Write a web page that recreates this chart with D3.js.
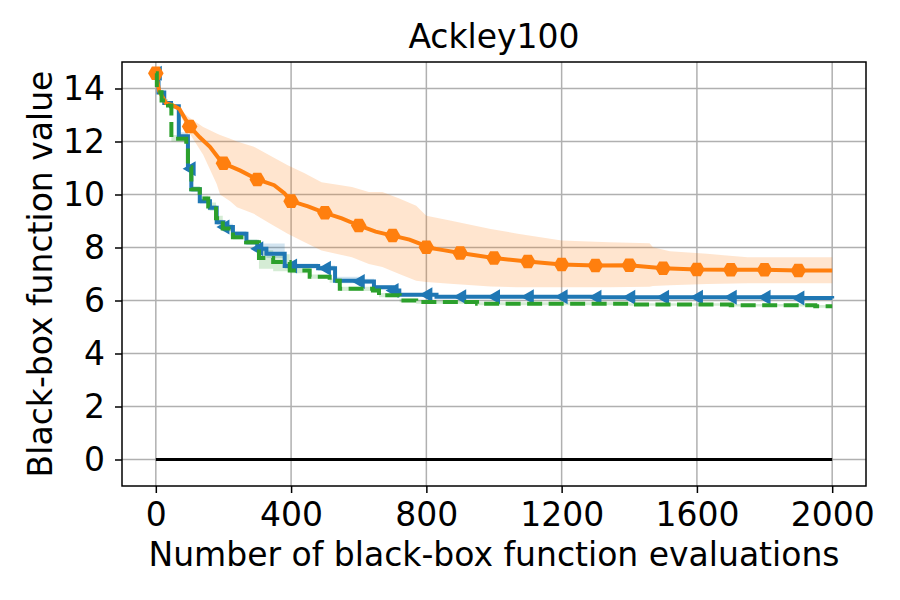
<!DOCTYPE html>
<html>
<head>
<meta charset="utf-8">
<script src="https://cdn.jsdelivr.net/npm/d3@7"></script>
<style>
  body { margin: 0; background: #fff; }
  text { font-family: "DejaVu Sans", sans-serif; fill: #000; }
</style>
</head>
<body>
<div id="chart-container"></div>
<script>
// tick values
const xTicks = [0, 400, 800, 1200, 1600, 2000];
const yTicks = [0, 2, 4, 6, 8, 10, 12, 14];

// orange series (mean line + band)
const orangeX = [0, 10, 30, 50, 70, 85, 100, 130, 160, 190, 200, 250, 300, 350, 380, 400, 450, 500, 550, 600, 650, 700, 750, 790, 800, 850, 900, 950, 1000, 1100, 1200, 1300, 1400, 1500, 1600, 1700, 1800, 1900, 2000];
const orangeY = [14.58, 13.9, 13.45, 13.36, 13.23, 12.9, 12.57, 12.16, 11.8, 11.3, 11.18, 10.9, 10.57, 10.35, 10.05, 9.75, 9.55, 9.31, 9.1, 8.83, 8.6, 8.45, 8.3, 8.1, 8.01, 7.9, 7.79, 7.7, 7.6, 7.47, 7.36, 7.32, 7.33, 7.22, 7.17, 7.16, 7.16, 7.13, 7.13];
const orangeBandX = [0, 60, 100, 140, 180, 190, 220, 240, 290, 340, 390, 440, 490, 580, 630, 670, 720, 770, 800, 870, 990, 1070, 1200, 1340, 1460, 1470, 1520, 1630, 1750, 2000];
const orangeHi = [14.58, 13.3, 12.9, 12.55, 12.3, 12.25, 12.1, 12.0, 11.8, 11.45, 11.1, 10.8, 10.46, 10.28, 10.09, 10.09, 9.85, 9.58, 9.2, 9.02, 8.7, 8.52, 8.26, 8.2, 8.16, 8.01, 7.86, 7.76, 7.63, 7.63];
const orangeLo = [14.58, 13.3, 12.3, 11.5, 10.4, 10.0, 9.75, 9.52, 9.27, 8.89, 8.52, 8.2, 7.89, 7.63, 7.38, 7.26, 7.0, 6.75, 6.7, 6.63, 6.53, 6.5, 6.5, 6.5, 6.52, 6.55, 6.58, 6.62, 6.65, 6.65];

// blue series (step)
const blueX = [0, 8, 25, 45, 68, 95, 105, 130, 160, 180, 200, 228, 268, 300, 327, 381, 480, 530, 600, 645, 700, 720, 830, 1300, 1900, 2000];
const blueY = [14.58, 13.85, 13.45, 13.33, 12.2, 10.97, 10.2, 9.75, 9.5, 8.95, 8.77, 8.52, 8.2, 7.95, 7.76, 7.3, 7.22, 6.75, 6.72, 6.5, 6.38, 6.22, 6.14, 6.12, 6.09, 6.08];
const blueLo = [14.58, 13.8, 13.4, 13.28, 12.1, 10.85, 10.1, 9.65, 9.4, 8.85, 8.65, 8.42, 8.1, 7.85, 7.6, 7.2, 7.12, 6.65, 6.62, 6.42, 6.3, 6.16, 6.09, 6.07, 6.04, 6.03];
const blueHi = [14.58, 13.9, 13.5, 13.38, 12.35, 11.1, 10.3, 9.85, 9.6, 9.05, 8.9, 8.62, 8.3, 8.15, 8.15, 7.4, 7.32, 6.9, 6.82, 6.58, 6.45, 6.28, 6.19, 6.17, 6.14, 6.13];

// green series (step, dashed)
const greenX = [0, 3, 17, 36, 46, 90, 95, 105, 130, 155, 178, 198, 228, 267, 305, 347, 396, 455, 514, 544, 642, 660, 721, 770, 950, 1400, 1700, 1950, 2000];
const greenY = [14.58, 13.86, 13.55, 13.36, 12.1, 11.9, 11.03, 10.2, 9.85, 9.55, 9.1, 8.72, 8.39, 8.2, 7.6, 7.45, 7.13, 6.9, 6.75, 6.44, 6.38, 6.2, 6.0, 5.94, 5.875, 5.85, 5.82, 5.78, 5.78];
const greenLo = [14.58, 13.8, 13.5, 13.3, 12.0, 11.8, 10.9, 10.1, 9.7, 9.4, 8.95, 8.6, 8.3, 8.1, 7.2, 7.1, 7.03, 6.82, 6.67, 6.36, 6.3, 6.12, 5.93, 5.88, 5.82, 5.8, 5.77, 5.73, 5.73];
const greenHi = [14.58, 13.9, 13.6, 13.42, 12.25, 12.0, 11.15, 10.3, 9.95, 9.7, 9.2, 8.85, 8.5, 8.3, 7.9, 7.75, 7.22, 6.98, 6.83, 6.52, 6.45, 6.28, 6.07, 6.0, 5.93, 5.9, 5.87, 5.83, 5.83];

// marker positions (evaluations)
const markerX = [0, 100, 200, 300, 400, 500, 600, 700, 800, 900, 1000, 1100, 1200, 1300, 1400, 1500, 1600, 1700, 1800, 1900];

function makeChart() {
    const W = 900, H = 600;
    const margin = { top: 62, right: 34, bottom: 114, left: 122 };
    const width = W - margin.left - margin.right;
    const height = H - margin.top - margin.bottom;
    const fs = "33px";

    const svg = d3.select("#chart-container")
        .append("svg")
        .attr("width", W)
        .attr("height", H);

    const g = svg.append("g")
        .attr("transform", "translate(" + margin.left + "," + margin.top + ")");

    const x = d3.scaleLinear().domain([-100, 2100]).range([0, width]);
    const y = d3.scaleLinear().domain([-1, 15]).range([height, 0]);

    // grid
    g.append("g").selectAll("line").data(xTicks).enter().append("line")
        .attr("x1", d => x(d)).attr("x2", d => x(d))
        .attr("y1", 0).attr("y2", height)
        .attr("stroke", "#b0b0b0").attr("stroke-width", 1.5);
    g.append("g").selectAll("line").data(yTicks).enter().append("line")
        .attr("x1", 0).attr("x2", width)
        .attr("y1", d => y(d)).attr("y2", d => y(d))
        .attr("stroke", "#b0b0b0").attr("stroke-width", 1.5);

    const zip = (xs, a, b) => xs.map((v, i) => ({ x: v, lo: a[i], hi: b[i] }));
    const pts = (xs, ys) => xs.map((v, i) => ({ x: v, y: ys[i] }));

    const areaStep = d3.area().curve(d3.curveStepAfter)
        .x(d => x(d.x)).y0(d => y(d.lo)).y1(d => y(d.hi));
    const areaLin = d3.area()
        .x(d => x(d.x)).y0(d => y(d.lo)).y1(d => y(d.hi));
    const lineStep = d3.line().curve(d3.curveStepAfter).x(d => x(d.x)).y(d => y(d.y));
    const lineLin = d3.line().x(d => x(d.x)).y(d => y(d.y));

    // bands
    g.append("path").datum(zip(blueX, blueLo, blueHi))
        .attr("d", areaStep).attr("fill", "#1f77b4").attr("fill-opacity", 0.2);
    g.append("path").datum(zip(orangeBandX, orangeLo, orangeHi))
        .attr("d", areaLin).attr("fill", "#ff7f0e").attr("fill-opacity", 0.2);
    g.append("path").datum(zip(greenX, greenLo, greenHi))
        .attr("d", areaStep).attr("fill", "#2ca02c").attr("fill-opacity", 0.2);

    // zero line
    g.append("line")
        .attr("x1", x(0)).attr("x2", x(2000))
        .attr("y1", y(0)).attr("y2", y(0))
        .attr("stroke", "#000").attr("stroke-width", 3);

    // blue line + left triangles
    const bluePts = pts(blueX, blueY);
    g.append("path").datum(bluePts)
        .attr("d", lineStep).attr("fill", "none")
        .attr("stroke", "#1f77b4").attr("stroke-width", 4);
    const stepAt = (xs, ys, v) => ys[d3.bisectRight(xs, v) - 1];
    const tri = "M-7,0L6,-7.5L6,7.5Z";
    g.append("g").selectAll("path").data(markerX).enter().append("path")
        .attr("d", tri)
        .attr("transform", d => "translate(" + x(d) + "," + y(stepAt(blueX, blueY, d)) + ")")
        .attr("fill", "#1f77b4");

    // orange line + hexagons
    const orangePts = pts(orangeX, orangeY);
    g.append("path").datum(orangePts)
        .attr("d", lineLin).attr("fill", "none")
        .attr("stroke", "#ff7f0e").attr("stroke-width", 4);
    const hexR = 7.8;
    const hex = d3.range(6).map(i => {
        const a = Math.PI / 3 * i;
        return [hexR * Math.cos(a), hexR * Math.sin(a)];
    });
    const hexPath = "M" + hex.map(p => p.join(",")).join("L") + "Z";
    g.append("g").selectAll("path")
        .data(orangePts.filter(d => markerX.includes(d.x))).enter().append("path")
        .attr("d", hexPath)
        .attr("transform", d => "translate(" + x(d.x) + "," + y(d.y) + ")")
        .attr("fill", "#ff7f0e");

    // green dashed line
    g.append("path").datum(pts(greenX, greenY))
        .attr("d", lineStep).attr("fill", "none")
        .attr("stroke", "#2ca02c").attr("stroke-width", 4)
        .attr("stroke-dasharray", "15,6.5");

    // frame
    g.append("rect")
        .attr("width", width).attr("height", height)
        .attr("fill", "none").attr("stroke", "#000").attr("stroke-width", 1.5);

    // axes
    const xAxis = g.append("g")
        .attr("transform", "translate(0," + height + ")")
        .call(d3.axisBottom(x).tickValues(xTicks).tickSize(7).tickPadding(10).tickFormat(d3.format("d")));
    const yAxis = g.append("g")
        .call(d3.axisLeft(y).tickValues(yTicks).tickSize(7).tickPadding(10).tickFormat(d3.format("d")));
    [xAxis, yAxis].forEach(a => {
        a.select(".domain").remove();
        a.selectAll(".tick line").attr("stroke", "#000").attr("stroke-width", 1.5);
        a.selectAll(".tick text")
            .style("font-family", "DejaVu Sans")
            .style("font-size", fs)
            .attr("fill", "#000");
    });

    // title and labels
    svg.append("text")
        .attr("x", margin.left + width / 2).attr("y", 48)
        .attr("text-anchor", "middle")
        .style("font-size", fs)
        .text("Ackley100");
    svg.append("text")
        .attr("x", margin.left + width / 2).attr("y", 566)
        .attr("text-anchor", "middle")
        .style("font-size", fs)
        .text("Number of black-box function evaluations");
    svg.append("text")
        .attr("transform", "translate(52," + (margin.top + height / 2) + ") rotate(-90)")
        .attr("text-anchor", "middle")
        .style("font-size", fs)
        .text("Black-box function value");
}
makeChart();
</script>
</body>
</html>
